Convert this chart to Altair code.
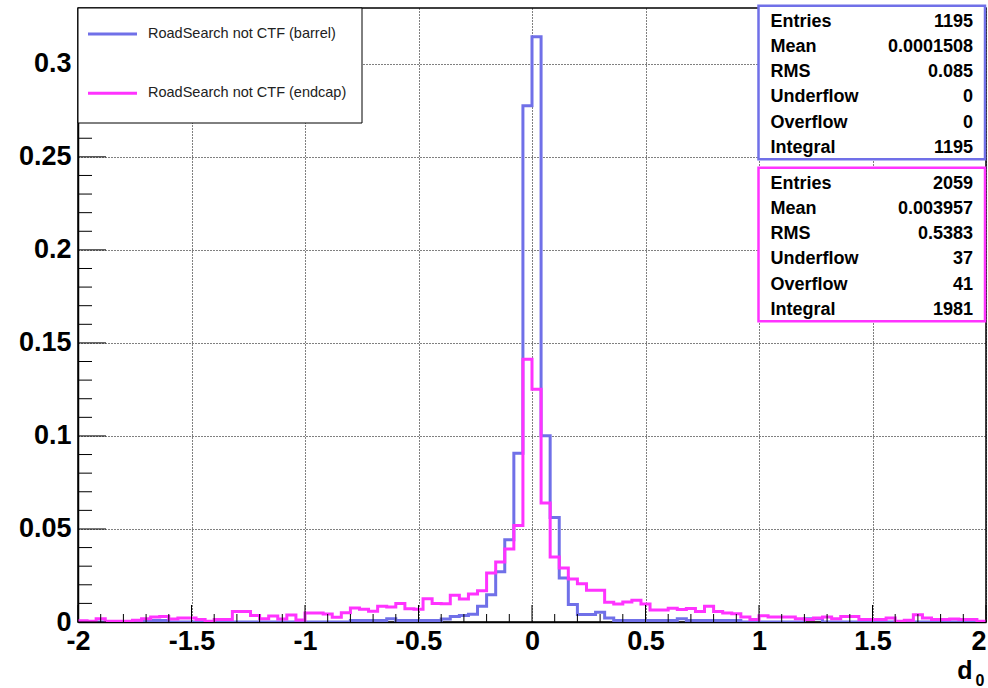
import altair as alt
import pandas as pd

# ---------------- data ----------------
BIN_LO = -2.0
BIN_W = 0.04
N_BINS = 100

barrel = [
    0, 0, 0, 0, 0, 0, 0, 0.0008, 0.0008, 0.0008,
    0, 0, 0, 0, 0, 0, 0, 0, 0, 0,
    0, 0, 0, 0, 0, 0, 0, 0, 0, 0,
    0.0008, 0.0008, 0.0008, 0.0008, 0.0017, 0.0008, 0.0008, 0.0008, 0.0008, 0.0008,
    0.0016, 0.0030, 0.0035, 0.0042, 0.0085, 0.0147, 0.0270, 0.0442, 0.0907, 0.2775,
    0.3145, 0.1001, 0.0562, 0.0237, 0.0094, 0.0040, 0.0040, 0.0052, 0.0022, 0.0008,
    0.0008, 0.0008, 0.0008, 0.0008, 0.0008, 0.0008, 0.0017, 0.0008, 0.0008, 0.0008,
    0.0008, 0.0008, 0.0008, 0, 0, 0, 0, 0, 0, 0,
    0.0017, 0.0017, 0, 0, 0, 0, 0, 0, 0, 0,
    0, 0, 0, 0, 0, 0, 0, 0, 0, 0,
]

endcap = [
    0.0007, 0.0004, 0.0018, 0.0004, 0.0004, 0.0004, 0.0009, 0.0018, 0.0027, 0.0030,
    0.0016, 0.0021, 0.0021, 0.0013, 0.0004, 0.0013, 0.0013, 0.0057, 0.0057, 0.0035,
    0.0018, 0.0032, 0.0016, 0.0038, 0.0011, 0.0048, 0.0048, 0.0043, 0.0025, 0.0050,
    0.0075, 0.0068, 0.0058, 0.0085, 0.0080, 0.0100, 0.0071, 0.0068, 0.0125, 0.0100,
    0.0098, 0.0144, 0.0123, 0.0150, 0.0168, 0.0264, 0.0323, 0.0392, 0.0519, 0.1412,
    0.1251, 0.0639, 0.0349, 0.0290, 0.0231, 0.0205, 0.0171, 0.0171, 0.0106, 0.0097,
    0.0108, 0.0117, 0.0097, 0.0065, 0.0065, 0.0074, 0.0067, 0.0072, 0.0057, 0.0084,
    0.0057, 0.0048, 0.0045, 0.0027, 0.0013, 0.0034, 0.0027, 0.0027, 0.0027, 0.0018,
    0.0013, 0.0021, 0.0027, 0.0018, 0.0030, 0.0030, 0.0013, 0.0013, 0.0013, 0.0021,
    0.0004, 0.0009, 0.0039, 0.0021, 0.0013, 0.0013, 0.0016, 0.0013, 0.0013, 0.0004,
]

series_names = ["barrel", "endcap"]
series_colors = ["#7070e8", "#ff33ff"]
legend_labels = ["RoadSearch not CTF (barrel)", "RoadSearch not CTF (endcap)"]

x_major = [-2, -1.5, -1, -0.5, 0, 0.5, 1, 1.5, 2]
y_major = [0, 0.05, 0.1, 0.15, 0.2, 0.25, 0.3]
x_minor = [round(-2 + 0.1 * i, 2) for i in range(41) if round(-2 + 0.1 * i, 2) not in x_major]
y_minor = [round(0.01 * i, 2) for i in range(1, 33) if i % 5 != 0]

stat_labels = ["Entries", "Mean", "RMS", "Underflow", "Overflow", "Integral"]
barrel_stats = ["1195", "0.0001508", "0.085", "0", "0", "1195"]
endcap_stats = ["2059", "0.003957", "0.5383", "37", "41", "1981"]

# ---------------- build tables ----------------
rows = []
for name, vals in zip(series_names, [barrel, endcap]):
    for k, v in enumerate(vals):
        rows.append({"x": BIN_LO + BIN_W * k, "y": v, "series": name})
    rows.append({"x": BIN_LO + BIN_W * N_BINS, "y": vals[-1], "series": name})
hist_df = pd.DataFrame(rows)

W, H = 908, 614
FONT = "Liberation Sans"
AX_FS = 27

xscale = alt.Scale(domain=[-2, 2], nice=False, zero=False)
yscale = alt.Scale(domain=[0, 0.33], nice=False, zero=False)

xaxis = alt.Axis(values=x_major, grid=True, gridColor="black", gridDash=[1, 2], gridWidth=1,
                 ticks=False, domain=True, domainColor="black", domainWidth=1.5,
                 labelFont=FONT, labelFontSize=AX_FS, labelFontWeight="bold", labelColor="black",
                 labelPadding=6, labelFlush=False, labelOverlap=False, labelBound=False,
                 labelAlign=alt.condition("datum.value == 2", alt.value("right"), alt.value("center")),
                 labelExpr="datum.value + ''", title=None)
yaxis = alt.Axis(values=y_major, grid=True, gridColor="black", gridDash=[1, 2], gridWidth=1,
                 ticks=False, domain=True, domainColor="black", domainWidth=1.5,
                 labelFont=FONT, labelFontSize=AX_FS, labelFontWeight="bold", labelColor="black",
                 labelPadding=7, labelFlush=False, labelOverlap=False, labelBound=False,
                 labelExpr="datum.value + ''", title=None)

hist = alt.Chart(hist_df).mark_line(interpolate="step-after", strokeWidth=3, clip=True).encode(
    x=alt.X("x:Q", scale=xscale, axis=xaxis),
    y=alt.Y("y:Q", scale=yscale, axis=yaxis),
    color=alt.Color("series:N", scale=alt.Scale(domain=series_names, range=series_colors), legend=None),
    order=alt.Order("x:Q"),
)

def xticks(vals, length):
    return alt.Chart(pd.DataFrame({"x": vals})).mark_rule(color="black", strokeWidth=1).encode(
        x=alt.X("x:Q", scale=xscale, axis=xaxis),
        y=alt.value(H), y2=alt.value(H - length))

def yticks(vals, length):
    return alt.Chart(pd.DataFrame({"y": vals})).mark_rule(color="black", strokeWidth=1).encode(
        y=alt.Y("y:Q", scale=yscale, axis=yaxis),
        x=alt.value(0), x2=alt.value(length))

dummy = pd.DataFrame({"a": [0]})
layers = [hist, xticks(x_major, 17), xticks(x_minor, 8), yticks(y_major, 28), yticks(y_minor, 14)]

# legend box
layers.append(alt.Chart(dummy).mark_rect(fill="white", stroke="black", strokeWidth=1).encode(
    x=alt.value(0), x2=alt.value(284), y=alt.value(0), y2=alt.value(115)))
for i, (lab, col) in enumerate(zip(legend_labels, series_colors)):
    ly = 26 + i * 59.3
    layers.append(alt.Chart(dummy).mark_rule(color=col, strokeWidth=3).encode(
        x=alt.value(10), x2=alt.value(59), y=alt.value(ly)))
    layers.append(alt.Chart(dummy).mark_text(align="left", baseline="middle", font=FONT,
                                              fontSize=14.5, color="#222222").encode(
        x=alt.value(70), y=alt.value(ly), text=alt.value(lab)))

# stats boxes
box_tops = [-2.3, 159.7]
for b, (vals, col) in enumerate(zip([barrel_stats, endcap_stats], series_colors)):
    top = box_tops[b]
    layers.append(alt.Chart(dummy).mark_rect(fill="white", stroke=col, strokeWidth=2.5).encode(
        x=alt.value(680.5), x2=alt.value(907), y=alt.value(top), y2=alt.value(top + 153.6)))
    for r, (lab, val) in enumerate(zip(stat_labels, vals)):
        ry = top + 16 + r * 25.2
        layers.append(alt.Chart(dummy).mark_text(align="left", baseline="middle", font=FONT,
                                                  fontSize=18, fontWeight="bold", color="black").encode(
            x=alt.value(692.5), y=alt.value(ry), text=alt.value(lab)))
        layers.append(alt.Chart(dummy).mark_text(align="right", baseline="middle", font=FONT,
                                                  fontSize=18, fontWeight="bold", color="black").encode(
            x=alt.value(895), y=alt.value(ry), text=alt.value(val)))

# axis title d0
layers.append(alt.Chart(dummy).mark_text(align="center", baseline="alphabetic", font=FONT,
                                          fontSize=25, fontWeight="bold", color="black").encode(
    x=alt.value(887), y=alt.value(671), text=alt.value("d")))
layers.append(alt.Chart(dummy).mark_text(align="center", baseline="alphabetic", font=FONT,
                                          fontSize=16, fontWeight="bold", color="black").encode(
    x=alt.value(902), y=alt.value(678), text=alt.value("0")))

chart = alt.layer(*layers).properties(
    width=W, height=H,
    padding={"left": 78, "top": 8, "right": 2, "bottom": 66},
    autosize=alt.AutoSizeParams(type="none"),
    background="white",
).configure_view(stroke="black", strokeWidth=1.5)

chart.save("out.html", embed_options={"renderer": "svg", "actions": False})
